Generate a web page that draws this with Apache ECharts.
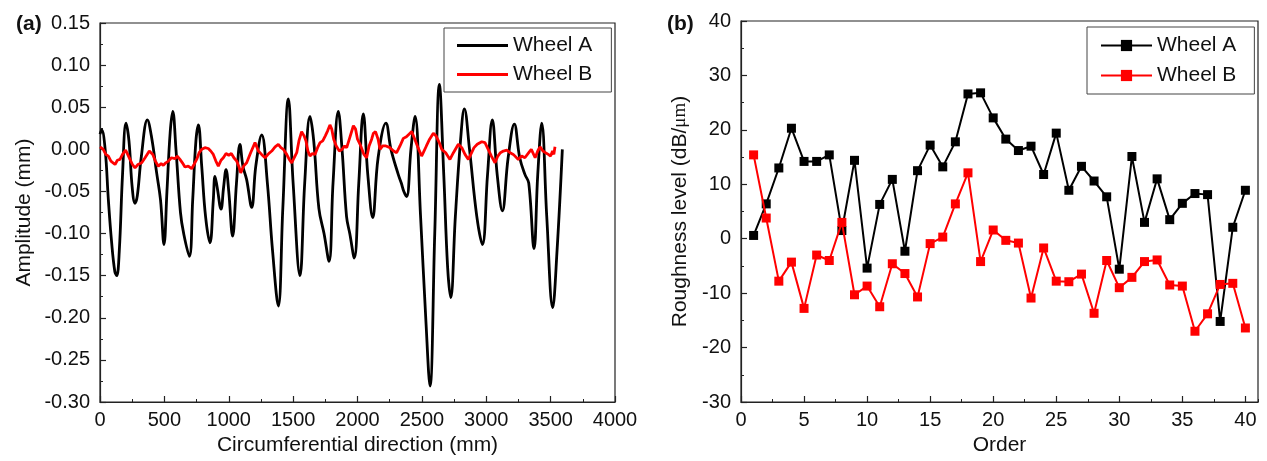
<!DOCTYPE html>
<html>
<head>
<meta charset="utf-8">
<script src="https://cdn.jsdelivr.net/npm/echarts@6/dist/echarts.min.js"></script>
<style>
html,body{margin:0;padding:0;background:#fff;}
#c{width:1267px;height:461px;}
</style>
</head>
<body>
<div id="c"></div>
<script>
// ---------- Panel (a): amplitude along circumference ----------
const wheelA_x = [0,13,40,65,90,115,130,150,175,202,225,250,272,290,320,368,400,440,470,497,520,545,565,590,625,650,694,720,745,764,790,820,854,880,893,910,940,960,979,1000,1030,1060,1087,1110,1139,1178,1210,1256,1300,1340,1385,1420,1463,1500,1553,1590,1631,1660,1700,1740,1779,1810,1851,1880,1915,1940,1975,2010,2045,2080,2118,2160,2221,2260,2317,2340,2360,2382,2415,2447,2490,2530,2563,2600,2636,2670,2700,2724,2760,2800,2830,2870,2926,2970,3010,3047,3085,3125,3170,3218,3260,3301,3330,3371,3400,3431,3470,3516,3550,3591];
const wheelA_y = [0.018,0.023,0.000,-0.060,-0.110,-0.145,-0.150,-0.120,-0.030,0.031,0.010,-0.045,-0.064,-0.055,-0.010,0.035,0.015,-0.028,-0.060,-0.113,-0.050,0.020,0.045,0.000,-0.075,-0.100,-0.127,-0.060,0.010,0.029,-0.020,-0.080,-0.111,-0.060,-0.032,-0.045,-0.071,-0.045,-0.024,-0.050,-0.103,-0.040,0.006,-0.020,-0.036,-0.069,-0.020,0.017,-0.040,-0.120,-0.186,-0.070,0.060,-0.040,-0.150,-0.040,0.039,0.010,-0.070,-0.100,-0.133,-0.040,0.045,0.000,-0.080,-0.100,-0.129,-0.040,0.042,-0.030,-0.081,-0.010,0.031,0.000,-0.030,-0.040,-0.050,-0.056,0.000,0.039,-0.080,-0.200,-0.281,-0.100,0.077,-0.030,-0.140,-0.176,-0.080,0.010,0.048,0.000,-0.079,-0.113,-0.030,0.035,-0.030,-0.073,-0.010,0.030,-0.010,-0.030,-0.040,-0.118,-0.030,0.031,-0.080,-0.188,-0.120,0.000];

const wheelB_x = [0,25,45,65,85,100,117,135,155,175,199,215,233,252,272,295,324,350,383,410,430,453,475,492,511,531,555,583,600,621,640,660,685,712,730,751,770,790,815,841,860,880,900,919,940,958,979,1000,1020,1040,1062,1078,1093,1115,1139,1170,1204,1230,1255,1282,1310,1334,1360,1385,1405,1424,1450,1470,1489,1508,1528,1545,1566,1585,1600,1615,1631,1650,1670,1690,1709,1730,1750,1768,1786,1800,1815,1835,1859,1880,1900,1916,1940,1968,1985,2000,2020,2050,2071,2090,2110,2123,2140,2160,2175,2195,2221,2252,2280,2304,2330,2356,2380,2400,2421,2445,2470,2498,2511,2535,2560,2589,2610,2635,2654,2685,2718,2745,2783,2810,2835,2861,2880,2905,2930,2965,2990,3015,3040,3068,3090,3110,3133,3159,3185,3210,3249,3275,3300,3330,3350,3380,3400,3418,3440,3460,3482,3500,3515,3525,3534];
const wheelB_y = [0.003,0.000,-0.006,-0.008,-0.014,-0.012,-0.018,-0.013,-0.012,-0.006,-0.001,-0.006,-0.012,-0.018,-0.022,-0.018,-0.016,-0.010,-0.002,-0.006,-0.014,-0.020,-0.017,-0.019,-0.016,-0.014,-0.010,-0.011,-0.008,-0.012,-0.016,-0.021,-0.020,-0.023,-0.018,-0.012,-0.004,0.000,0.002,0.001,-0.002,-0.006,-0.014,-0.020,-0.013,-0.010,-0.005,-0.007,-0.005,-0.010,-0.014,-0.020,-0.028,-0.020,-0.016,-0.004,0.008,-0.002,-0.006,-0.010,-0.005,-0.002,0.003,0.006,0.002,0.000,-0.006,-0.012,-0.016,-0.010,-0.004,0.010,0.021,0.016,0.010,-0.002,-0.008,-0.005,-0.006,0.002,0.008,0.010,0.016,0.022,0.029,0.024,0.012,0.004,-0.002,0.000,0.004,0.002,0.014,0.028,0.024,0.012,0.006,-0.006,-0.010,0.004,0.012,0.019,0.021,0.012,0.000,0.004,0.004,0.002,-0.002,-0.004,0.004,0.013,0.015,0.018,0.021,0.012,0.002,-0.008,-0.004,0.004,0.012,0.019,0.016,0.008,0.000,-0.004,-0.012,-0.004,0.006,0.002,-0.006,-0.012,-0.006,0.002,0.006,0.009,0.008,0.000,-0.008,-0.016,-0.008,-0.004,-0.002,-0.001,-0.004,-0.006,-0.012,-0.008,-0.010,-0.004,0.000,-0.010,-0.002,0.003,-0.002,-0.004,-0.006,-0.008,-0.002,-0.006,0.003];

// ---------- Panel (b): roughness level per order ----------
const orderNo = [1,2,3,4,5,6,7,8,9,10,11,12,13,14,15,16,17,18,19,20,21,22,23,24,25,26,27,28,29,30,31,32,33,34,35,36,37,38,39,40];
const levelA = [0.6,6.4,13.0,20.3,14.2,14.2,15.4,1.5,14.4,-5.4,6.3,10.9,-2.3,12.5,17.2,13.2,17.8,26.6,26.8,22.2,18.3,16.2,17.0,11.8,19.4,8.9,13.3,10.6,7.7,-5.6,15.1,3.0,11.0,3.5,6.5,8.3,8.1,-15.2,2.1,8.9];
const levelB = [15.4,3.8,-7.8,-4.3,-12.8,-3.0,-4.0,3.0,-10.3,-8.7,-12.5,-4.6,-6.4,-10.7,-0.9,0.3,6.4,12.1,-4.2,1.6,-0.3,-0.8,-10.9,-1.7,-7.8,-7.9,-6.5,-13.7,-4.0,-9.0,-7.1,-4.2,-3.9,-8.5,-8.7,-17.0,-13.8,-8.4,-8.2,-16.4];

const yTicksA = {min:-0.30, max:0.15, interval:0.05};
const xTicksA = {min:0, max:4000, interval:500};
const yTicksB = {min:-30, max:40, interval:10};
const xTicksB = {min:0, max:41, interval:5};

const zip = (xs, ys) => xs.map((x, i) => [x, ys[i]]);

const FONT = 'Liberation Sans, Arial, sans-serif';
const AX = '#222';
const tickLabel = {color:'#111', fontSize:20, fontFamily:FONT};
const nameStyle = {color:'#111', fontSize:21, fontFamily:FONT};

function valAxis(extra){
  return Object.assign({
    type:'value',
    axisLine:{show:true, onZero:false, lineStyle:{color:AX, width:1.2}},
    axisTick:{show:true, inside:true, length:6, lineStyle:{color:AX, width:1.2}},
    minorTick:{show:true, splitNumber:2, length:3, lineStyle:{color:AX, width:1}},
    splitLine:{show:false},
    minorSplitLine:{show:false},
    axisLabel:Object.assign({}, tickLabel),
    nameTextStyle:Object.assign({}, nameStyle)
  }, extra);
}

const chart = echarts.init(document.getElementById('c'), null, {renderer:'canvas'});
chart.setOption({
  backgroundColor:'#fff',
  animation:false,
  title:[
    {text:'(a)', left:11, top:9, textStyle:{fontSize:21, fontWeight:'bold', fontFamily:FONT, color:'#111'}},
    {text:'(b)', left:662, top:9, textStyle:{fontSize:21, fontWeight:'bold', fontFamily:FONT, color:'#111'}}
  ],
  grid:[
    {left:100, right:652, top:23, bottom:58, show:true, borderColor:AX, borderWidth:1.2, backgroundColor:'transparent'},
    {left:741, right:9, top:21, bottom:58, show:true, borderColor:AX, borderWidth:1.2, backgroundColor:'transparent'}
  ],
  legend:[
    {
      data:[{name:'Wheel A', icon:'rect'},{name:'Wheel B', icon:'rect'}],
      orient:'vertical', left:444, top:28,
      borderColor:'#444', borderWidth:1, padding:[5,19,5,13],
      itemWidth:51, itemHeight:3, itemGap:4,
      textStyle:{fontSize:21, fontFamily:FONT, color:'#111', lineHeight:25},
      seriesIndex:[0,1]
    },
    {
      data:[{name:'Wheel A '},{name:'Wheel B '}],
      orient:'vertical', left:1087, top:27,
      borderColor:'#444', borderWidth:1, padding:[6,18,6,13],
      itemWidth:51, itemHeight:14, itemGap:5,
      textStyle:{fontSize:21, fontFamily:FONT, color:'#111', lineHeight:25},
      formatter: n => n.trim()
    }
  ],
  xAxis:[
    valAxis({gridIndex:0, min:xTicksA.min, max:xTicksA.max, interval:xTicksA.interval,
      name:'Circumferential direction (mm)', nameLocation:'middle', nameGap:33,
      axisLabel:Object.assign({}, tickLabel, {margin:8, formatter: v => String(v)})}),
    valAxis({gridIndex:1, min:xTicksB.min, max:xTicksB.max, interval:xTicksB.interval,
      name:'Order', nameLocation:'middle', nameGap:33,
      minorTick:{show:false},
      axisLabel:Object.assign({}, tickLabel, {margin:8, showMaxLabel:false,
        formatter: v => (v % 5 === 0 ? String(v) : '')})}),
    valAxis({gridIndex:1, min:xTicksB.min, max:xTicksB.max, interval:xTicksB.interval/2,
      position:'bottom', axisLine:{show:false, onZero:false}, minorTick:{show:false},
      axisTick:{show:true, inside:true, length:3, lineStyle:{color:AX, width:1}},
      axisLabel:{show:false}})
  ],
  yAxis:[
    valAxis({gridIndex:0, min:yTicksA.min, max:yTicksA.max, interval:yTicksA.interval,
      name:'Amplitude (mm)', nameLocation:'middle', nameGap:65,
      axisLabel:Object.assign({}, tickLabel, {margin:10, formatter: v => v.toFixed(2)})}),
    valAxis({gridIndex:1, min:yTicksB.min, max:yTicksB.max, interval:yTicksB.interval,
      name:'Roughness level (dB/{u|μm})', nameLocation:'middle', nameGap:50,
      nameTextStyle:Object.assign({}, nameStyle, {rich:{u:{fontFamily:'Liberation Serif, Times New Roman, serif', fontSize:19, color:'#111'}}}),
      axisLabel:Object.assign({}, tickLabel, {margin:10})})
  ],
  series:[
    {name:'Wheel A', type:'line', xAxisIndex:0, yAxisIndex:0, data:zip(wheelA_x, wheelA_y),
      smooth:0.4, showSymbol:false, symbol:'none', lineStyle:{color:'#000', width:2.8}, itemStyle:{color:'#000'}, z:3},
    {name:'Wheel B', type:'line', xAxisIndex:0, yAxisIndex:0, data:zip(wheelB_x, wheelB_y),
      smooth:false, showSymbol:false, symbol:'none', lineStyle:{color:'#f00', width:2.8}, itemStyle:{color:'#f00'}, z:4},
    {name:'Wheel A ', type:'line', xAxisIndex:1, yAxisIndex:1, data:zip(orderNo, levelA),
      symbol:'rect', symbolSize:9, showAllSymbol:true, lineStyle:{color:'#000', width:2}, itemStyle:{color:'#000'}, z:3},
    {name:'Wheel B ', type:'line', xAxisIndex:1, yAxisIndex:1, data:zip(orderNo, levelB),
      symbol:'rect', symbolSize:9, showAllSymbol:true, lineStyle:{color:'#f00', width:2}, itemStyle:{color:'#f00'}, z:4}
  ]
});
</script>
</body>
</html>
